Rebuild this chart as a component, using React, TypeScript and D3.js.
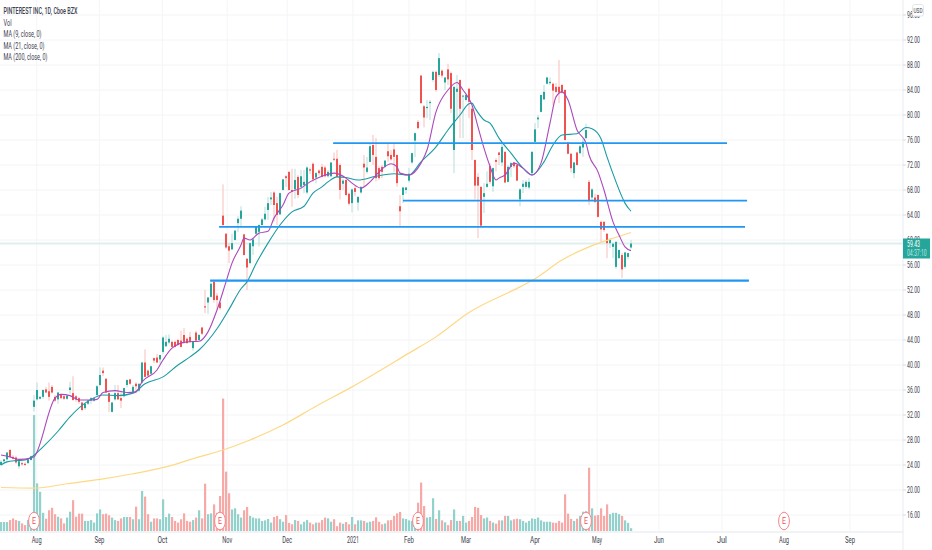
import React from 'react';
import * as d3 from 'd3';

const W = 932;
const H = 550;
const AXIS_X = 903;
const VOL_BASE = 531;

// daily candles, one per trading day, Jul 2020 to May 2021
const opens = [
  24.0, 24.6, 24.9, 26.4, 25.3, 25.2, 23.8, 24.3, 24.2, 24.3,
  24.8, 33.3, 34.5, 34.6, 34.9, 36.1, 35.8, 36.5, 34.9, 34.5,
  35.2, 35.0, 34.6, 36.0, 35.5, 35.0, 34.7, 34.0, 33.1, 33.8,
  34.3, 34.3, 35.2, 36.8, 39.1, 37.8, 35.5, 32.5, 34.5, 35.5,
  34.7, 35.0, 36.8, 37.7, 35.7, 37.0, 35.9, 37.2, 40.4, 39.1,
  38.6, 41.1, 41.2, 40.9, 42.1, 43.0, 43.6, 43.7, 43.7, 44.0,
  43.9, 44.8, 44.2, 44.5, 42.7, 45.2, 44.0, 46.0, 49.4, 50.0,
  50.9, 53.3, 51.1, 50.0, 63.9, 61.0, 59.0, 58.5, 60.0, 62.7,
  63.4, 60.9, 57.0, 56.3, 59.0, 61.0, 61.3, 62.4, 63.3, 64.8,
  66.5, 67.6, 65.9, 64.1, 68.0, 70.2, 70.9, 68.0, 68.1, 70.1,
  68.5, 68.8, 67.6, 71.3, 72.2, 70.0, 71.1, 71.7, 71.6, 70.2,
  70.2, 73.0, 73.0, 72.0, 69.0, 69.6, 67.4, 65.9, 68.3, 66.0,
  67.6, 72.2, 70.9, 72.5, 75.2, 73.3, 71.5, 71.7, 71.7, 74.2,
  73.6, 74.5, 73.6, 65.4, 67.2, 68.0, 69.5, 72.4, 75.9, 78.9,
  86.3, 81.4, 81.1, 81.9, 85.6, 86.9, 86.4, 87.1, 85.2, 87.3,
  86.7, 74.4, 83.7, 85.6, 83.0, 82.4, 84.2, 81.0, 72.8, 70.1,
  68.5, 66.9, 68.5, 71.8, 68.6, 72.8, 74.0, 72.4, 74.1, 69.3,
  71.7, 72.4, 72.0, 66.5, 68.5, 68.5, 68.4, 70.7, 75.7, 79.3,
  80.5, 82.5, 85.0, 85.1, 85.0, 84.5, 84.5, 84.8, 84.0, 75.6,
  73.8, 70.7, 74.0, 73.9, 74.8, 76.3, 69.3, 66.8, 66.8, 67.2,
  62.9, 62.9, 61.0, 59.5, 58.9, 55.7, 57.1, 57.6, 55.7, 57.3,
  58.8,
];
const highs = [
  24.8, 25.0, 26.1, 26.6, 25.6, 25.5, 24.6, 24.6, 24.4, 25.0,
  25.5, 35.2, 37.2, 35.0, 36.1, 36.5, 37.2, 36.8, 35.2, 35.7,
  35.4, 35.2, 35.2, 37.3, 38.2, 35.2, 34.9, 34.1, 33.9, 34.4,
  34.9, 34.9, 36.8, 39.6, 39.6, 37.9, 35.6, 34.1, 36.8, 36.8,
  35.7, 36.4, 37.7, 37.8, 36.8, 37.3, 37.0, 40.5, 42.5, 39.3,
  39.9, 41.2, 41.8, 41.6, 44.6, 44.8, 44.9, 43.9, 43.9, 44.2,
  45.5, 45.9, 44.4, 45.3, 43.8, 45.5, 45.0, 46.1, 52.0, 50.9,
  53.2, 53.4, 51.5, 50.1, 68.9, 61.1, 59.5, 61.0, 61.6, 63.8,
  65.4, 61.0, 57.1, 59.6, 60.3, 62.3, 62.5, 63.5, 65.3, 66.9,
  67.7, 67.8, 66.9, 67.6, 69.8, 70.4, 71.0, 71.4, 71.4, 70.4,
  71.2, 71.2, 71.8, 71.6, 72.4, 70.9, 71.3, 72.2, 71.9, 71.2,
  72.5, 74.0, 74.4, 72.3, 69.8, 69.8, 67.6, 68.2, 68.6, 67.0,
  68.6, 73.6, 73.3, 75.5, 76.8, 76.3, 71.8, 72.0, 72.8, 75.5,
  74.4, 75.5, 73.7, 67.2, 68.5, 68.5, 71.5, 74.0, 77.2, 79.2,
  86.4, 81.6, 82.4, 82.4, 87.1, 87.1, 89.9, 87.3, 86.1, 88.2,
  86.9, 84.6, 86.4, 85.7, 83.2, 83.3, 84.3, 81.4, 72.9, 70.7,
  68.6, 69.1, 71.0, 72.3, 71.6, 73.1, 74.1, 75.4, 74.2, 72.0,
  72.5, 72.5, 72.1, 68.3, 69.6, 69.6, 69.9, 74.2, 78.7, 80.0,
  83.3, 84.8, 86.1, 86.0, 85.2, 85.1, 88.8, 85.0, 84.1, 75.7,
  73.9, 72.5, 74.1, 75.2, 76.3, 78.6, 69.6, 68.3, 67.4, 67.3,
  63.1, 63.0, 61.1, 60.3, 59.6, 59.8, 58.5, 57.9, 58.1, 58.0,
  60.0,
];
const lows = [
  23.9, 24.4, 24.7, 25.2, 24.9, 24.2, 23.4, 23.9, 23.8, 24.2,
  24.7, 32.5, 34.3, 34.5, 34.6, 35.5, 34.3, 35.4, 34.1, 33.8,
  34.5, 34.4, 34.4, 35.4, 34.3, 34.1, 33.8, 32.6, 32.8, 33.6,
  33.8, 34.1, 35.0, 36.6, 38.2, 35.5, 32.5, 32.4, 34.3, 34.4,
  33.1, 34.8, 36.4, 36.8, 35.5, 35.5, 35.7, 37.0, 38.1, 38.1,
  38.5, 40.3, 40.3, 40.2, 41.8, 42.9, 43.3, 42.8, 42.8, 43.0,
  42.8, 43.4, 43.4, 43.5, 42.3, 43.8, 43.9, 44.8, 48.3, 48.2,
  50.8, 50.0, 48.9, 48.8, 62.2, 58.6, 56.3, 58.4, 59.9, 61.3,
  62.1, 57.5, 52.0, 56.2, 57.6, 60.8, 59.0, 62.2, 63.1, 63.2,
  65.6, 62.9, 62.4, 64.0, 67.9, 68.5, 67.9, 65.3, 66.6, 66.7,
  68.2, 67.5, 67.3, 70.6, 69.3, 69.1, 70.3, 70.0, 70.0, 70.0,
  70.0, 72.6, 70.0, 66.5, 68.0, 67.0, 65.5, 64.4, 67.0, 64.7,
  67.4, 68.5, 70.6, 72.4, 72.0, 69.4, 69.6, 69.9, 71.5, 72.5,
  72.7, 70.9, 68.5, 62.1, 65.9, 67.4, 69.2, 72.2, 73.3, 77.7,
  81.8, 78.0, 79.5, 79.2, 85.3, 83.7, 86.1, 85.9, 84.0, 84.8,
  80.3, 70.7, 79.5, 76.3, 76.3, 82.2, 79.5, 72.8, 66.5, 60.3,
  62.2, 64.3, 68.3, 69.0, 67.7, 71.0, 72.0, 71.8, 69.1, 69.2,
  70.1, 71.5, 69.4, 65.4, 67.5, 68.2, 68.1, 70.5, 75.6, 77.9,
  80.4, 82.4, 84.9, 84.8, 81.6, 83.5, 81.9, 83.4, 75.9, 73.7,
  70.8, 69.9, 71.9, 73.7, 73.3, 76.2, 65.6, 66.4, 65.9, 63.6,
  59.7, 61.3, 57.1, 58.7, 57.1, 55.4, 57.0, 53.9, 55.4, 56.9,
  58.6,
];
const closes = [
  24.5, 24.9, 26.0, 25.3, 25.0, 24.4, 24.6, 24.1, 24.0, 24.9,
  25.4, 34.3, 36.0, 34.9, 36.0, 35.6, 34.9, 35.6, 34.3, 35.6,
  34.7, 34.6, 35.1, 36.4, 34.4, 34.5, 34.1, 32.8, 33.8, 34.3,
  34.7, 34.7, 36.6, 38.4, 38.7, 35.6, 34.1, 34.0, 35.5, 34.5,
  34.3, 36.3, 37.6, 37.0, 36.5, 36.6, 37.0, 40.4, 38.1, 38.3,
  39.8, 40.7, 40.4, 41.6, 44.4, 43.7, 44.2, 42.9, 42.9, 43.2,
  42.9, 43.7, 43.5, 43.7, 43.7, 43.9, 44.8, 45.0, 49.2, 50.8,
  53.0, 50.4, 50.4, 49.1, 62.4, 58.8, 58.3, 59.5, 61.5, 63.4,
  64.7, 57.6, 55.6, 59.5, 60.1, 62.2, 62.4, 63.3, 64.2, 65.9,
  66.8, 65.6, 64.0, 67.5, 69.7, 69.9, 68.0, 67.7, 69.6, 67.2,
  70.2, 69.3, 71.6, 71.1, 69.7, 70.7, 70.7, 70.1, 70.2, 70.9,
  72.4, 72.9, 70.1, 68.0, 69.5, 67.2, 65.8, 68.1, 67.7, 66.9,
  68.5, 71.6, 71.6, 75.0, 73.6, 69.9, 69.9, 70.9, 72.7, 73.4,
  72.9, 73.3, 69.1, 64.6, 68.4, 68.4, 70.6, 73.9, 77.1, 77.9,
  81.9, 79.6, 81.3, 82.1, 86.9, 84.0, 89.1, 86.3, 86.0, 85.7,
  81.0, 84.5, 84.2, 81.0, 83.1, 83.2, 82.1, 74.4, 68.7, 68.7,
  62.3, 67.5, 69.0, 69.3, 71.5, 72.5, 73.6, 74.9, 69.2, 71.7,
  72.3, 71.8, 69.5, 68.1, 69.0, 69.3, 69.3, 74.1, 77.7, 79.6,
  83.2, 83.7, 86.0, 85.3, 83.9, 83.7, 83.6, 83.6, 76.0, 73.8,
  71.5, 72.4, 72.0, 75.0, 75.7, 77.6, 66.3, 68.1, 66.1, 63.7,
  61.7, 61.6, 59.5, 60.0, 59.4, 59.7, 58.4, 55.3, 58.0, 57.9,
  59.43,
];
const volumes = [
  3.2, 3.2, 3.2, 3.9, 4.5, 3.9, 3.6, 2.7, 2.1, 3.9,
  3.2, 41.4, 17.0, 14.0, 6.5, 4.4, 7.4, 8.3, 6.0, 5.1,
  4.5, 2.7, 4.8, 6.9, 11.0, 5.1, 6.2, 6.2, 3.6, 3.6,
  3.9, 3.0, 6.3, 7.7, 6.0, 6.2, 5.6, 4.8, 3.9, 3.6,
  4.5, 5.0, 5.0, 5.0, 4.2, 8.7, 4.2, 14.3, 12.3, 6.0,
  3.3, 4.5, 4.5, 4.2, 11.3, 5.0, 6.2, 5.0, 3.6, 3.0,
  4.2, 6.3, 3.6, 3.3, 3.9, 4.8, 7.4, 4.5, 16.9, 6.0,
  6.3, 9.5, 6.5, 12.5, 47.3, 21.2, 13.5, 7.7, 8.1, 6.0,
  4.8, 7.4, 8.6, 5.4, 4.8, 4.5, 4.5, 3.6, 3.8, 4.3,
  3.0, 5.0, 5.4, 4.2, 3.3, 5.7, 2.9, 2.4, 3.9, 3.6,
  2.4, 3.3, 3.9, 3.0, 2.4, 3.0, 3.0, 3.9, 4.8, 4.5,
  3.3, 4.2, 1.7, 3.0, 2.6, 3.2, 2.4, 5.0, 2.4, 3.8,
  3.8, 3.6, 3.0, 3.3, 3.6, 4.9, 3.3, 2.4, 2.7, 3.8,
  3.9, 5.4, 6.3, 6.8, 4.5, 4.3, 3.8, 3.6, 3.6, 10.1,
  17.3, 8.9, 4.8, 5.0, 11.7, 4.3, 7.4, 3.8, 3.1, 2.1,
  3.9, 7.7, 3.6, 3.6, 5.4, 3.0, 3.6, 5.0, 8.6, 8.3,
  5.7, 4.5, 4.8, 3.6, 3.0, 2.6, 3.8, 3.8, 5.4, 5.4,
  3.8, 4.2, 4.4, 4.2, 3.6, 3.0, 3.6, 4.5, 4.3, 4.8,
  3.8, 3.3, 3.3, 3.3, 3.0, 2.9, 3.6, 3.0, 13.1, 6.2,
  4.3, 3.6, 4.4, 5.4, 6.9, 7.1, 22.6, 8.1, 5.5, 5.7,
  8.1, 5.4, 9.5, 6.0, 6.5, 6.5, 6.0, 5.4, 3.8, 2.9,
  1.0,
];

// moving averages at the bars where they bend
const ma9Idx = [0, 3, 6, 10, 11, 18, 20, 23, 26, 30, 32, 34, 38, 42, 45, 47, 52, 54, 57, 62, 66, 69, 72, 75, 77, 80, 81, 83, 86, 89, 91, 94, 96, 100, 103, 107, 111, 115, 117, 120, 123, 126, 130, 132, 133, 136, 140, 142, 145, 149, 152, 154, 157, 159, 161, 163, 165, 166, 168, 171, 174, 177, 180, 183, 185, 187, 189, 192, 195, 196, 199, 201, 204, 206, 208, 210];
const ma9Vals = [25.6, 25.3, 24.9, 25.1, 25.3, 34.7, 35.3, 35.1, 34.4, 34.4, 34.5, 35.6, 35.9, 35.6, 35.7, 37.3, 39.2, 40.8, 42.7, 43.7, 43.8, 45.3, 48.8, 53.3, 56.3, 59.2, 60.3, 60.0, 61.1, 61.4, 63.5, 65.6, 67.5, 68.3, 69.3, 70.2, 70.7, 69.9, 69.1, 68.3, 69.3, 70.9, 72.2, 71.7, 70.7, 70.4, 72.3, 74.4, 80.5, 84.0, 85.2, 84.0, 81.6, 78.1, 74.7, 71.8, 69.6, 69.9, 70.4, 72.3, 71.5, 70.4, 72.3, 78.7, 82.9, 83.7, 82.4, 77.6, 75.5, 73.6, 70.9, 68.0, 62.9, 60.8, 58.9, 58.3];
const ma21Idx = [0, 2, 5, 8, 10, 14, 19, 23, 28, 30, 34, 39, 44, 48, 54, 59, 63, 66, 72, 76, 80, 82, 85, 89, 93, 97, 101, 104, 107, 109, 112, 115, 119, 125, 131, 136, 140, 145, 149, 153, 156, 157, 158, 161, 163, 166, 170, 174, 177, 181, 184, 187, 192, 195, 197, 200, 202, 205, 207, 208, 210];
const ma21Vals = [24.0, 24.5, 24.7, 24.8, 25.2, 26.9, 29.4, 31.7, 33.9, 34.5, 35.2, 35.1, 35.5, 37.0, 38.1, 40.0, 41.3, 42.4, 45.8, 48.9, 52.2, 53.3, 56.2, 59.5, 62.4, 64.5, 65.4, 67.5, 68.5, 69.3, 70.1, 70.0, 69.6, 70.2, 70.6, 70.4, 72.5, 74.9, 77.6, 80.0, 81.8, 81.9, 81.1, 79.2, 78.7, 76.3, 73.9, 71.5, 70.4, 72.5, 75.2, 76.8, 77.0, 78.0, 77.8, 76.2, 73.3, 69.3, 66.9, 65.9, 64.6];
const ma200Idx = [0, 11, 22, 33, 44, 55, 66, 74, 83, 94, 105, 117, 136, 145, 156, 173, 178, 187, 196, 203, 210];
const ma200Vals = [20.4, 20.3, 21.0, 21.7, 22.6, 23.7, 25.3, 26.4, 28.0, 30.4, 33.4, 36.5, 41.9, 44.5, 48.4, 52.5, 53.8, 56.8, 58.9, 60.1, 61.2];

// hand drawn support / resistance lines
const levelPrices = [75.5, 66.3, 62.1, 53.5];
const levelStarts = [110.7, 134, 72.7, 69.7];
const levelEnds = [242, 248.7, 248, 249.3];
const levelWidths = [1.6, 1.6, 1.8, 2.2];

const priceTicks = [96, 92, 88, 84, 80, 76, 72, 68, 64, 60, 56, 52, 48, 44, 40, 36, 32, 28, 24, 20, 16];
const timeLabels = ['Aug', 'Sep', 'Oct', 'Nov', 'Dec', '2021', 'Feb', 'Mar', 'Apr', 'May', 'Jun', 'Jul', 'Aug', 'Sep'];
const timeTicks = [11.9, 32.8, 53.8, 75.4, 95.4, 117.3, 136, 155, 178, 198.7, 219.3, 240.3, 261, 283];
const earningsIdx = [11, 73, 139, 195, 261];
const legendLines = ['PINTEREST INC, 1D, Cboe BZX', 'Vol', 'MA (9, close, 0)', 'MA (21, close, 0)', 'MA (200, close, 0)'];
const legendWidths = [74, 8, 38, 41, 44];
const lastPrice = 59.43;

const UP = '#26a69a';
const DOWN = '#ef5350';
const UP_VOL = '#93d2cc';
const DOWN_VOL = '#f7a9a7';
const UP_WICK = '#b4dfdb';
const DOWN_WICK = '#f9bdbb';
const LABEL = '#3d414d';
const FONT = 'Roboto, sans-serif';

const x = d3.scaleLinear().domain([0, 301]).range([1, 904]);
const y = d3.scaleLinear().domain([92, 16]).range([40, 515]);
const v = d3.scaleLinear().domain([0, 50]).range([VOL_BASE, VOL_BASE - 140]);

function maPath(idx: number[], vals: number[]) {
  const line = d3
    .line<number>()
    .x((d) => x(d))
    .y((_, i) => y(vals[i]))
    .curve(d3.curveMonotoneX);
  return line(idx) as string;
}

export default function App() {
  return (
    <svg
      width={W}
      height={H}
      style={{ position: 'absolute', left: 0, top: 0, background: '#fff', fontFamily: FONT }}
    >
      {/* grid */}
      {priceTicks.map((p) => (
        <line key={p} x1={0} x2={AXIS_X} y1={y(p)} y2={y(p)} stroke="#f3f4f6" />
      ))}
      {timeTicks.map((t, i) => (
        <line key={i} x1={x(t)} x2={x(t)} y1={0} y2={VOL_BASE} stroke="#f4f5f7" />
      ))}

      {/* volume */}
      {volumes.map((d, i) => (
        <rect
          key={i}
          x={x(i) - 1}
          y={v(d)}
          width={2.2}
          height={VOL_BASE - v(d)}
          fill={closes[i] >= opens[i] ? UP_VOL : DOWN_VOL}
        />
      ))}

      <line x1={0} x2={AXIS_X} y1={y(lastPrice)} y2={y(lastPrice)} stroke="#deefed" strokeWidth={2} />

      {/* candles */}
      {opens.map((o, i) => {
        const c = closes[i];
        const up = c >= o;
        const top = y(Math.max(o, c));
        const bottom = y(Math.min(o, c));
        return (
          <g key={i}>
            <line
              x1={x(i)}
              x2={x(i)}
              y1={y(highs[i])}
              y2={y(lows[i])}
              stroke={up ? UP_WICK : DOWN_WICK}
              strokeWidth={1}
            />
            <rect
              x={x(i) - 1}
              y={top}
              width={2}
              height={Math.max(bottom - top, 1)}
              fill={up ? UP : DOWN}
            />
          </g>
        );
      })}

      {/* moving averages */}
      <path d={maPath(ma200Idx, ma200Vals)} fill="none" stroke="#fdd986" strokeWidth={1.2} />
      <path d={maPath(ma21Idx, ma21Vals)} fill="none" stroke="#1a9aa3" strokeWidth={1.1} />
      <path d={maPath(ma9Idx, ma9Vals)} fill="none" stroke="#aa48bc" strokeWidth={1.1} />

      {/* trend levels */}
      {levelPrices.map((p, i) => (
        <line
          key={i}
          x1={x(levelStarts[i])}
          x2={x(levelEnds[i])}
          y1={y(p)}
          y2={y(p)}
          stroke="#2196f3"
          strokeWidth={levelWidths[i]}
        />
      ))}

      {/* earnings markers */}
      {earningsIdx.map((e) => (
        <g key={e}>
          <ellipse cx={x(e)} cy={521} rx={5.4} ry={8.8} fill="#fff" stroke="#f6868c" strokeWidth={1} />
          <text x={x(e)} y={524} textAnchor="middle" fontSize={8.5} fill="#ee4f57" textLength={4} lengthAdjust="spacingAndGlyphs">
            E
          </text>
        </g>
      ))}

      {/* axes */}
      <line x1={0} x2={AXIS_X} y1={532} y2={532} stroke="#e4e6ec" />
      <line x1={AXIS_X} x2={AXIS_X} y1={0} y2={H} stroke="#e9ebf0" />
      {priceTicks.map((p) => (
        <g key={p}>
          <line x1={AXIS_X} x2={AXIS_X + 3} y1={y(p)} y2={y(p)} stroke="#d8dae0" />
          <text x={907} y={y(p) + 3} fontSize={8.5} fill={LABEL} textLength={13} lengthAdjust="spacingAndGlyphs">
            {p.toFixed(2)}
          </text>
        </g>
      ))}
      {timeLabels.map((t, i) => (
        <text
          key={i}
          x={x(timeTicks[i])}
          y={543}
          fontSize={8.5}
          textAnchor="middle"
          fill={LABEL}
          textLength={t.length === 4 ? 12 : 10}
          lengthAdjust="spacingAndGlyphs"
        >
          {t}
        </text>
      ))}

      {/* last price tag */}
      <rect x={903} y={238.5} width={27} height={20} fill="#26a69a" />
      <text x={907} y={246.5} fontSize={8.5} fill="#fff" textLength={13} lengthAdjust="spacingAndGlyphs">
        59.43
      </text>
      <text transform="translate(907,256) scale(0.6,1)" fontSize={8.5} fill="#bfe5e1">
        04:37:10
      </text>

      {/* currency box */}
      <rect x={912.5} y={4.5} width={11} height={11.5} rx={2} fill="#fff" stroke="#e4e6ec" />
      <text x={918} y={12.5} fontSize={8} textAnchor="middle" fill={LABEL} textLength={9} lengthAdjust="spacingAndGlyphs">
        USD
      </text>

      {/* legend */}
      {legendLines.map((t, i) => (
        <text
          key={i}
          x={3.5}
          y={14 + i * 11.5}
          fontSize={9}
          fontWeight={i === 0 ? 500 : 400}
          fill={LABEL}
          textLength={legendWidths[i]}
          lengthAdjust="spacingAndGlyphs"
        >
          {t}
        </text>
      ))}
    </svg>
  );
}
